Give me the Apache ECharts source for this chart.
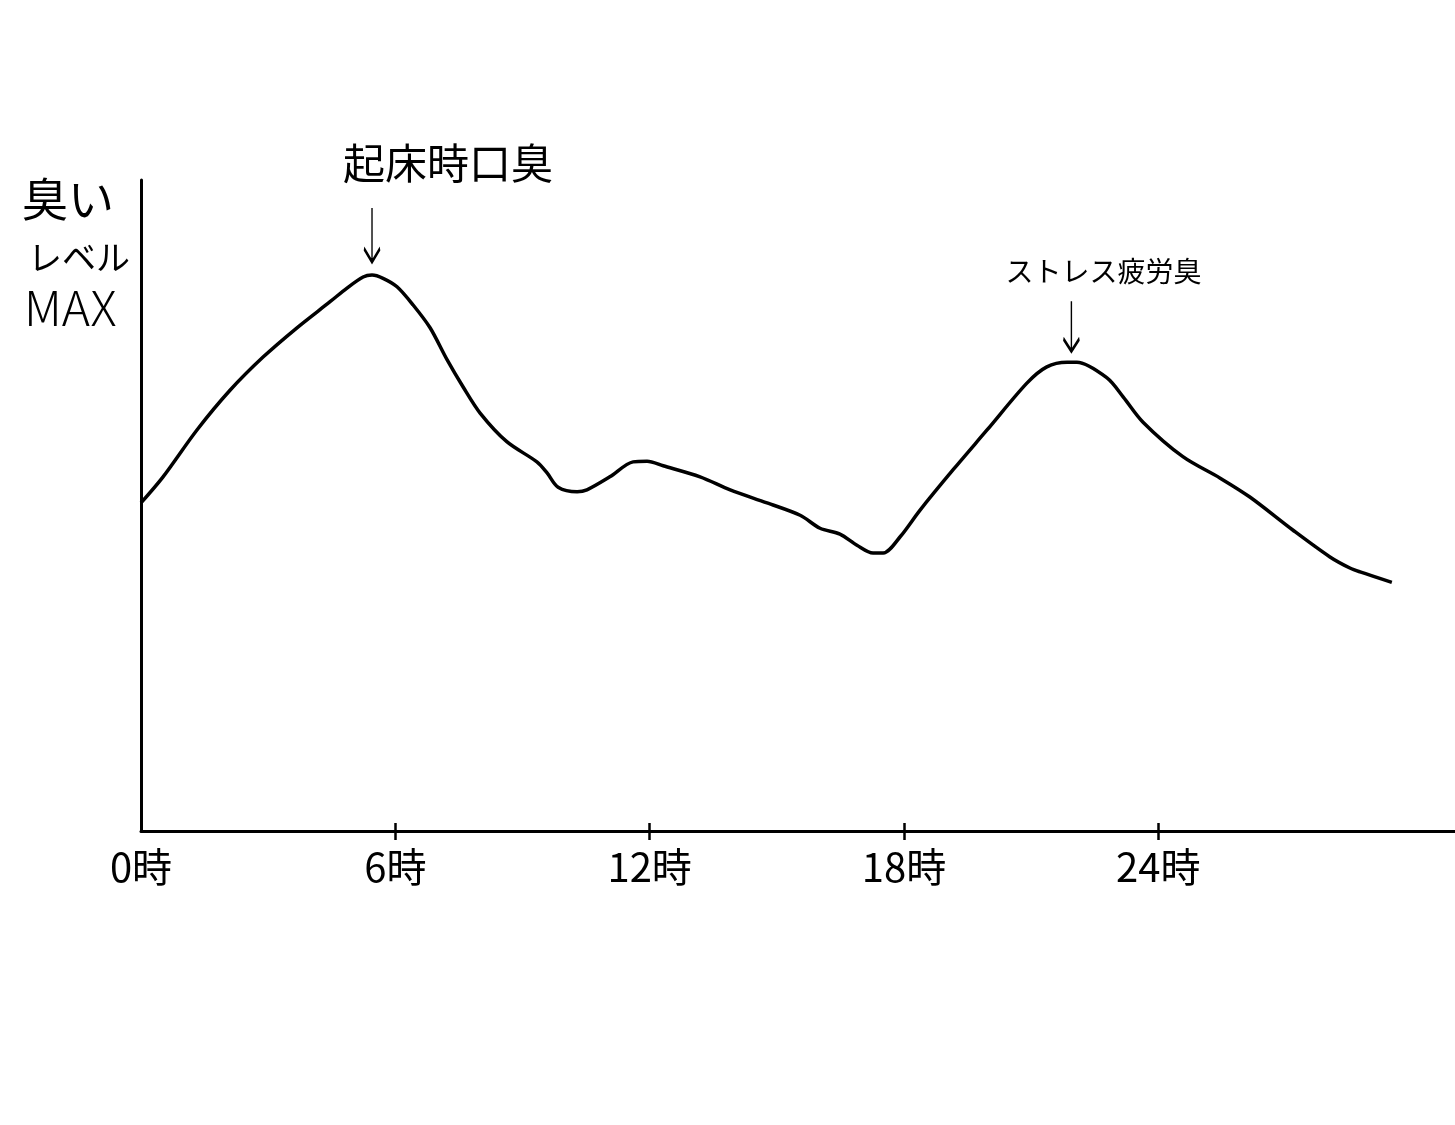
<!DOCTYPE html>
<html>
<head>
<meta charset="utf-8">
<script src="https://cdn.jsdelivr.net/npm/echarts@6/dist/echarts.min.js"></script>
<style>
html,body{margin:0;padding:0;background:#fff;}
#main{width:1455px;height:1125px;}
</style>
</head>
<body>
<div id="main"></div>
<script>
// Hours of the day (x) and smell level (y, 0-100 where 100 = MAX)
const hours = [0, 0.52, 1.32, 2.10, 2.88, 3.68, 4.46, 4.86, 5.24, 5.45, 5.71, 6.04, 6.42, 6.82, 7.22, 7.60, 8.00, 8.63, 9.34, 9.58, 9.84, 10.29, 10.52, 11.06, 11.61, 11.94, 12.32, 13.19, 13.90, 14.77, 15.55, 16.02, 16.49, 16.89, 17.27, 17.51, 17.91, 18.38, 19.16, 19.96, 20.90, 21.37, 21.85, 22.08, 22.79, 23.17, 23.64, 24.58, 25.46, 26.16, 27.18, 28.05, 28.52, 28.76, 29.51];
const smell = [50.4, 54.4, 61.6, 67.7, 72.8, 77.3, 81.3, 83.4, 85.1, 85.4, 84.9, 83.6, 80.8, 77.3, 72.4, 68.2, 64.2, 59.8, 56.7, 55.0, 52.8, 52.1, 52.4, 54.4, 56.7, 56.8, 56.1, 54.4, 52.4, 50.4, 48.5, 46.5, 45.6, 43.9, 42.7, 42.7, 45.2, 49.3, 55.5, 61.6, 68.8, 71.3, 72.0, 72.0, 69.6, 66.7, 62.8, 57.5, 54.2, 51.3, 46.2, 42.1, 40.4, 39.8, 38.2];
const tickHours = [0, 6, 12, 18, 24];
const tickLabels = ['0時', '6時', '12時', '18時', '24時'];
const peakLabels = ['起床時口臭', 'ストレス疲労臭'];
const peakHours = [5.45, 21.95];
const peakValues = [85.4, 72.0];
const yAxisTitle = ['臭い', 'レベル', 'MAX'];

const FONT = '"Noto Sans CJK JP", "Noto Sans", sans-serif';
const arrowPath = 'path://M10,0 L10,56 M3,42 L10,56 L17,42';

const chart = echarts.init(document.getElementById('main'), null, {renderer: 'canvas'});
const data = hours.map((h, i) => [h, smell[i]]);

chart.setOption({
  backgroundColor: '#fff',
  animation: false,
  grid: {left: 141, right: 0, top: 180, bottom: 294, containLabel: false, outerBoundsMode: 'none'},
  xAxis: [{
    type: 'value', min: 0, max: 31, interval: 6,
    axisLine: {show: true, onZero: false, lineStyle: {color: '#000', width: 3}},
    axisTick: {show: true, length: 9, customValues: [6, 12, 18, 24], lineStyle: {color: '#000', width: 2.5}},
    axisLabel: {
      show: true, customValues: tickHours, margin: 16,
      fontFamily: FONT, fontSize: 40, color: '#000',
      formatter: v => { const i = tickHours.indexOf(v); return i >= 0 ? tickLabels[i] : ''; }
    },
    splitLine: {show: false}
  }, {
    type: 'value', min: 0, max: 31, interval: 6, position: 'bottom', offset: 0,
    axisLine: {show: false},
    axisTick: {show: true, inside: true, length: 8, customValues: [6, 12, 18, 24], lineStyle: {color: '#000', width: 2.5}},
    axisLabel: {show: false},
    splitLine: {show: false}
  }],
  yAxis: {
    type: 'value', min: 0, max: 100,
    axisLine: {show: true, lineStyle: {color: '#000', width: 3}},
    axisTick: {show: false}, axisLabel: {show: false}, splitLine: {show: false}
  },
  graphic: [
    {type: 'text', left: 22, top: 176, style: {text: yAxisTitle[0], font: '46px ' + FONT, fill: '#000'}},
    {type: 'text', left: 28, top: 240, style: {text: yAxisTitle[1], font: '34px ' + FONT, fill: '#000'}},
    {type: 'text', left: 24, top: 284, style: {text: yAxisTitle[2], font: '300 48px ' + FONT, fill: '#000'}}
  ],
  series: [{
    type: 'line',
    xAxisIndex: 0,
    data: data,
    smooth: 0.3,
    showSymbol: false,
    symbol: 'none',
    lineStyle: {color: '#000', width: 3.5},
    markPoint: {
      silent: true,
      symbol: arrowPath,
      itemStyle: {color: 'transparent', borderColor: '#000', borderWidth: 2.5},
      data: [
        {coord: [peakHours[0], peakValues[0]], symbolSize: [16, 54], symbolOffset: [0, -40],
         label: {show: true, position: 'top', distance: 22, offset: [76, 0], formatter: peakLabels[0], fontFamily: FONT, fontSize: 42, color: '#000'}},
        {coord: [peakHours[1], peakValues[1]], symbolSize: [16, 50], symbolOffset: [0, -36],
         label: {show: true, position: 'top', distance: 14, offset: [32, 0], formatter: peakLabels[1], fontFamily: FONT, fontSize: 28, color: '#000'}}
      ]
    }
  }]
});
</script>
</body>
</html>
